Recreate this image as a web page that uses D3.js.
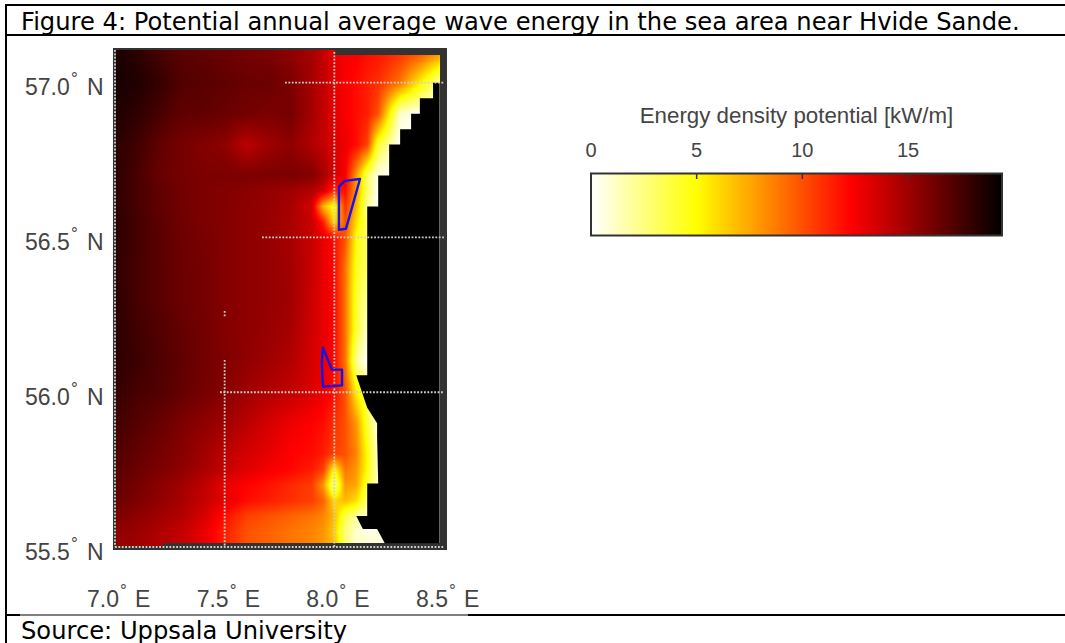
<!DOCTYPE html>
<html><head><meta charset="utf-8">
<script src="https://cdn.jsdelivr.net/npm/d3@7"></script>
<style>html,body{margin:0;padding:0;background:#fff}svg{display:block}</style>
</head><body><svg id="c" width="1065" height="643"></svg>
<script>
const titleText="Figure 4: Potential annual average wave energy in the sea area near Hvide Sande.";
const sourceText="Source: Uppsala University";
const legendTitle="Energy density potential [kW/m]";
const legendTicks=[0,5,10,15];
const lonTicks=[7.0,7.5,8.0,8.5];
const latTicks=[57.0,56.5,56.0,55.5];
const lons=[7.0,7.1,7.2,7.3,7.4,7.5,7.6,7.7,7.8,7.9,7.95,8.0,8.05,8.1,8.15,8.2,8.3,8.4,8.5];
const lats=[57.1,57.0,56.9,56.8,56.7,56.65,56.6,56.55,56.5,56.4,56.3,56.2,56.1,56.0,55.9,55.8,55.75,55.7,55.65,55.6,55.55,55.5];
const energy=[
[18.8,18.3,17.5,17,16.8,16.5,16.2,16,15.5,14.8,14,13,12.5,12.5,12,11.8,11,10,8],
[18.8,18.6,18,17.2,17,16.8,16.5,16.5,16,14.8,14,13,12.5,12,11.5,11,9,5,1],
[18.6,18.2,17.5,16.8,16.8,16.5,16.3,16,16.2,14.8,14,13,12.5,12,11.5,10,1,0,0],
[18.3,17.7,16.8,16.2,15.8,15.5,14.2,15,15.5,14.5,14,13.3,12.8,12,10.5,4,0,0,0],
[18.2,17.5,16.6,16.2,16,16,16,16,16,15.8,14.8,13.5,12.5,8,3,0.5,0,0,0],
[18.2,17.5,16.8,16.3,16,15.8,15.6,15.3,15,14.4,13.5,11,12,8,3,0,0,0,0],
[18.2,17.5,16.8,16.3,16,15.8,15.5,15.3,14.8,13.5,7,4.5,11,7,2,0,0,0,0],
[18.3,17.6,16.9,16.4,16,15.8,15.5,15.2,14.7,13.8,11.5,6,10,6,3,0,0,0,0],
[18.3,17.6,17,16.4,16.1,15.8,15.5,15.3,14.8,13.8,13,12,10,5,3,0,0,0,0],
[18.2,17.5,17,16.5,16.2,15.8,15.5,15.3,14.9,13.8,13,12.2,9,4.5,3,0,0,0,0],
[18.3,17.5,17,16.5,16.2,15.8,15.5,15.3,15,13.7,13,12.3,9,4,2,0,0,0,0],
[18.3,17.7,17.2,16.7,16.3,15.8,15.5,15.2,14.8,13.6,13,12.3,9,4,1,0,0,0,0],
[18.2,17.8,17.3,16.8,16.3,15.9,15.4,15,14.5,13.5,12.9,12.2,9,2,0,0,0,0,0],
[18,17.5,17.2,16.7,16.2,15.7,15,14.5,14,13.3,12.7,12,10,5.5,3,0,0,0,0],
[17.6,17.1,16.6,16,15.5,15,14.3,13.5,12.8,12.3,12,11,10,8,4,0.5,0,0,0],
[17.2,16.7,16.2,15.7,15,14.2,13.5,13,12.3,12,11.5,10.5,10,8.5,5,1,0,0,0],
[17,16.5,16,15.5,14.8,14,13.2,12.6,12.2,11.5,10.5,5,9,8,5,1,0,0,0],
[16.8,16.2,15.6,15,14.2,13,12.3,11.8,11.2,10.5,8,2,8,7.5,4,1,0,0,0],
[16.5,16,15.4,14.8,14,13,12,11.5,11,10.5,9.5,6,7,6,2.5,0.5,0,0,0],
[16,15.5,15,14.5,13.5,12,10.5,10,9.5,9,8.5,7,3.5,2,1,0.5,0,0,0],
[15.5,15.2,14.6,14,13,11.5,10,9.5,9,8.5,8,6.5,2.5,1,0.5,0.5,0,0,0],
[15.3,15,14.5,14,13,11.5,10,9.5,9,8.5,8,7,3,1,1,1,0,0,0]];
const landLon=[8.48,8.45,8.45,8.39,8.39,8.35,8.35,8.30,8.30,8.25,8.25,8.20,8.20,8.15,8.15,8.10,8.15,8.195,8.195,8.20,8.15,8.15,8.10,8.13,8.195,8.23,8.48];
const landLat=[57.0,57.0,56.95,56.95,56.90,56.90,56.85,56.85,56.80,56.80,56.70,56.70,56.60,56.60,56.055,56.055,55.95,55.90,55.855,55.705,55.705,55.60,55.60,55.558,55.558,55.512,55.512];
const zoneALon=[8.021,8.048,8.117,8.053,8.021];
const zoneALat=[56.664,56.683,56.689,56.528,56.525];
const zoneBLon=[7.948,7.989,8.035,8.035,7.948,7.943];
const zoneBLat=[56.144,56.073,56.073,56.022,56.018,56.096];

const svg=d3.select("#c");
const x=d3.scaleLinear().domain([7,8.5]).range([115,444]);
const y=d3.scaleLinear().domain([57,55.5]).range([82.7,547]);
const color=d3.scaleLinear().domain([0,5,12.3,19.5]).range(["#ffffff","#ffff00","#ff0000","#000000"]).clamp(true);
const lx=d3.scaleLinear().domain([0,15]).range([591,908]);

// frame
svg.append("rect").attr("x",113).attr("y",48).attr("width",334).attr("height",502).attr("fill","#333");

// heat field
const px0=116,px1=440,py0=50,py1=546;
const cv=document.createElement("canvas");cv.width=px1-px0;cv.height=py1-py0;
const ctx=cv.getContext("2d");const img=ctx.createImageData(cv.width,cv.height);
const ascLat=lats.map(d=>-d);
for(let j=0;j<cv.height;j++){
  const la=Math.min(57.1,Math.max(55.5,y.invert(py0+j+.5)));
  let r=Math.min(lats.length-2,Math.max(0,d3.bisectRight(ascLat,-la)-1));
  const v=(lats[r]-la)/(lats[r]-lats[r+1]);
  for(let i=0;i<cv.width;i++){
    const lo=Math.min(8.5,Math.max(7,x.invert(px0+i+.5)));
    let c=Math.min(lons.length-2,Math.max(0,d3.bisectRight(lons,lo)-1));
    const u=(lo-lons[c])/(lons[c+1]-lons[c]);
    const val=(1-v)*((1-u)*energy[r][c]+u*energy[r][c+1])+v*((1-u)*energy[r+1][c]+u*energy[r+1][c+1]);
    const col=d3.rgb(color(val));const k=(j*cv.width+i)*4;
    img.data[k]=col.r;img.data[k+1]=col.g;img.data[k+2]=col.b;img.data[k+3]=255;
  }
}
ctx.putImageData(img,0,0);
svg.append("image").attr("x",px0).attr("y",py0).attr("width",cv.width).attr("height",cv.height).attr("href",cv.toDataURL());
// frame strips over the field
svg.append("rect").attr("x",335).attr("y",48).attr("width",112).attr("height",7).attr("fill","#333");
svg.append("rect").attr("x",163).attr("y",543).attr("width",284).attr("height",7).attr("fill","#333");

// land
svg.append("path").attr("fill","#000")
  .attr("d",d3.line().x(d=>x(landLon[d])).y(d=>y(landLat[d]))(d3.range(landLon.length))+"Z");

// graticule
const dots=(x1,y1,x2,y2)=>svg.append("line").attr("x1",x1).attr("y1",y1).attr("x2",x2).attr("y2",y2)
  .attr("stroke","#cfcfc8").attr("stroke-width",1.8).attr("stroke-dasharray","1.8 1.6");
dots(x(7),50,x(7),y(55.5));
dots(x(8),52,x(8),y(55.5));
dots(x(7.5),360,x(7.5),y(55.5));
dots(x(7.5),311,x(7.5),317);
dots(285,y(57),x(8.5),y(57));
dots(262,y(56.5),x(8.5),y(56.5));
dots(220,y(56),x(8.5),y(56));
dots(x(7),y(55.5),x(8.5),y(55.5));

// zones
const zone=(lo,la)=>svg.append("path").attr("fill","none").attr("stroke","#1414e6").attr("stroke-width",2.4).attr("stroke-linejoin","round")
  .attr("d",d3.line().x(d=>x(lo[d])).y(d=>y(la[d]))(d3.range(lo.length))+"Z");
zone(zoneALon,zoneALat);zone(zoneBLon,zoneBLat);

// axis labels
const axisFont="Liberation Sans, Arial, sans-serif";
const label=(t,px,py,sz,anchor)=>svg.append("text").attr("x",px).attr("y",py).attr("font-family",axisFont)
  .attr("font-size",sz).attr("fill","#444").attr("text-anchor",anchor||"start").text(t);
latTicks.forEach(v=>{
  const b=y(v)+12.5;
  label(v.toFixed(1),25,b,23);
  label("°",71,b-11,17);
  label("N",87,b,23);
});
lonTicks.forEach(v=>{
  const p=x(v)-28;
  label(v.toFixed(1),p,607,23);
  label("°",p+33,596,17);
  label("E",p+48,607,23);
});

// colour bar
const grad=svg.append("defs").append("linearGradient").attr("id","g");
const end=19.5;
[0,5,6.8,8.7,10.5,12.3,14,16,18,19.5].forEach(s=>grad.append("stop").attr("offset",s/end).attr("stop-color",color(s)));
svg.append("rect").attr("x",591).attr("y",173.5).attr("width",1002-591).attr("height",62).attr("fill","url(#g)").attr("stroke","#333").attr("stroke-width",2);
legendTicks.forEach(t=>{
  if(t>0) svg.append("line").attr("x1",lx(t)).attr("x2",lx(t)).attr("y1",174).attr("y2",179).attr("stroke","#333").attr("stroke-width",1.5);
  label(t,lx(t),156.5,20,"middle");
});
label(legendTitle,796.5,123,22.3,"middle");

// table frame
const rule=(x1,y1,x2,y2,w)=>svg.append("line").attr("x1",x1).attr("y1",y1).attr("x2",x2).attr("y2",y2).attr("stroke","#000").attr("stroke-width",w||2);
rule(5,5,1065,5);rule(6,5,6,643);rule(5,35,1065,35);
rule(5,615,20,615);rule(20,615,468,615,1);rule(468,615,1065,615);
const tt=(t,py)=>svg.append("text").attr("x",21).attr("y",py).attr("font-family","DejaVu Sans, Verdana, sans-serif").attr("font-size",24.2).attr("fill","#000").text(t);
tt(titleText,30);tt(sourceText,638.5);
</script></body></html>
